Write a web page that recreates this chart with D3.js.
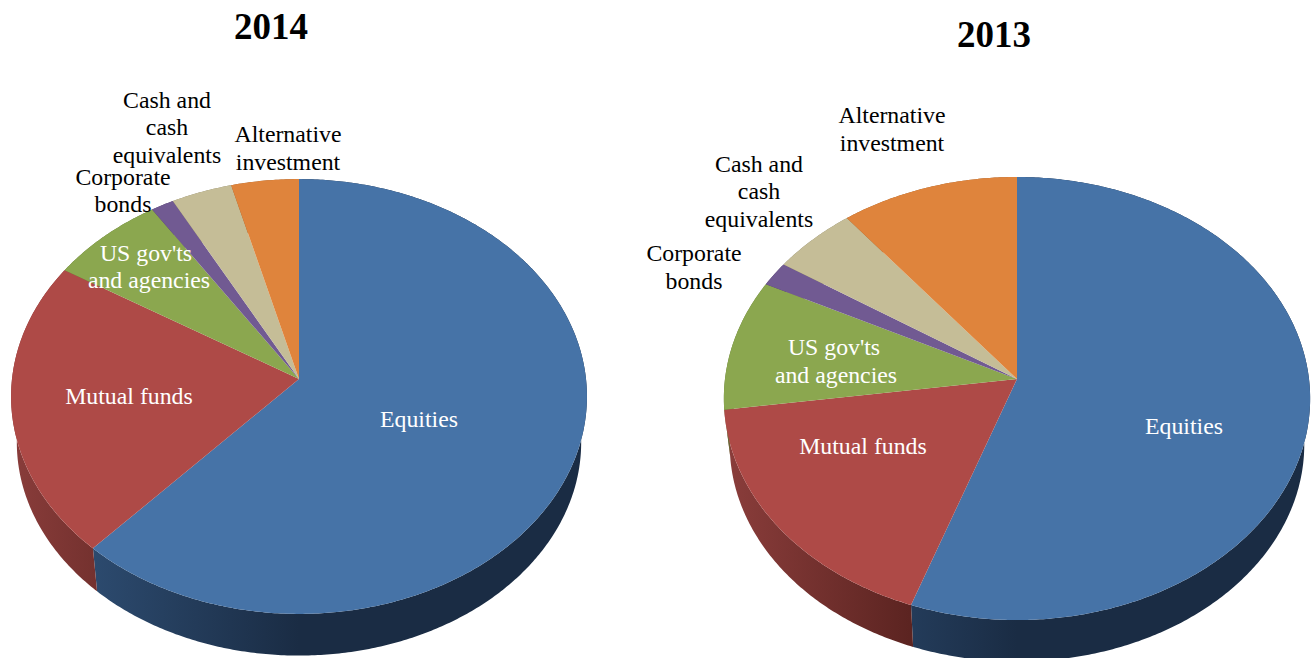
<!DOCTYPE html>
<html>
<head>
<meta charset="utf-8">
<script src="https://cdn.jsdelivr.net/npm/d3@7"></script>
<style>
  html, body { margin: 0; background: #fff; }
  svg { display: block; font-family: "Liberation Serif", serif; }
</style>
</head>
<body>
<script>
const categories = ['Equities', 'Mutual funds', "US gov'ts and agencies", 'Corporate bonds', 'Cash and cash equivalents', 'Alternative investment'];
const values2014 = [61.8, 22, 7, 1.4, 3.7, 4.1];
const values2013 = [55.4, 17.4, 9.6, 1.8, 5.1, 10.7];

const topColors = ['#4673a7', '#ae4a47', '#8ba74f', '#715a92', '#c5bd97', '#df843c'];
const wallColors = [['#2c4a6e', '#1a2c44'], ['#8a3d3b', '#5a2320'], ['#5f7335', '#5f7335'], ['#4c3c63', '#4c3c63'], ['#857f65', '#857f65'], ['#965928', '#965928']];
// gradient span of the wall, relative to the pie centre
const wallSpans = [[-205, 0], [-290, -100], [-290, 0], [-290, 0], [-290, 0], [-290, 0]];

// label lines, in the same order as the categories
const labelLines = [['Equities'], ['Mutual funds'], ["US gov'ts", 'and agencies'], ['Corporate', 'bonds'], ['Cash and', 'cash', 'equivalents'], ['Alternative', 'investment']];
const labelColors = ['#fff', '#fff', '#fff', '#000', '#000', '#000'];

const charts = [
  {
    id: 'y2014', title: '2014', titleX: 271, titleY: 39, values: values2014,
    cx: 299, cy: 379, a: 287, b: 216, g: 0.0805,
    lowScale: 0.98, lowDy: 46,
    labels: [
      [[419, 427]],
      [[129, 404]],
      [[146, 261], [149, 288]],
      [[123, 185], [123, 212]],
      [[167, 108], [167, 135], [167, 163]],
      [[288, 142], [288, 170]],
    ],
  },
  {
    id: 'y2013', title: '2013', titleX: 994, titleY: 47, values: values2013,
    cx: 1017, cy: 379, a: 292, b: 219.8, g: 0.088,
    lowScale: 0.98, lowDy: 46,
    labels: [
      [[1184, 434]],
      [[863, 454]],
      [[834, 355], [836, 383]],
      [[694, 261], [694, 289]],
      [[759, 172], [759, 199], [759, 227]],
      [[892, 123], [892, 151]],
    ],
  },
];

const width = 1316;
const height = 658;

const svg = d3.select('body')
  .append('svg')
  .attr('viewBox', [0, 0, width, height])
  .attr('width', width)
  .attr('height', height)
  .attr('text-anchor', 'middle');

const defs = svg.append('defs');
const pie = d3.pie().sort(null).value(d => d);
const line = d3.line();

charts.forEach(chart => {
  const { cx, cy, a, b, g } = chart;
  const xScale = d3.scaleLinear().domain([-1, 1]).range([cx - a, cx + a]);
  const yScale = d3.scaleLinear().domain([-1, 1]).range([cy - b, cy + b]);

  // circle seen in perspective, so the pie centre sits above the ellipse centre
  const project = angle => {
    const u = Math.sin(angle);
    const v = -Math.cos(angle);
    const w = 1 - g * v;
    return [xScale(u / w), yScale(v / w)];
  };
  const midY = project(Math.PI)[1] / 2 + project(0)[1] / 2;
  const lower = ([x, y]) => [
    cx + (x - cx) * chart.lowScale,
    midY + (y - midY) * chart.lowScale + chart.lowDy,
  ];
  const rim = d => d3.range(d.startAngle, d.endAngle, 0.01).concat(d.endAngle).map(project);

  const slices = pie(chart.values);
  const group = svg.append('g').attr('class', chart.id);

  slices.forEach((d, i) => {
    defs.append('linearGradient')
      .attr('id', `${chart.id}-wall-${i}`)
      .attr('gradientUnits', 'userSpaceOnUse')
      .attr('x1', cx + wallSpans[i][0])
      .attr('x2', cx + wallSpans[i][1])
      .attr('y1', 0)
      .attr('y2', 0)
      .selectAll('stop')
      .data(wallColors[i])
      .join('stop')
        .attr('offset', (_, j) => j)
        .attr('stop-color', c => c);
  });

  group.append('g')
    .selectAll('path')
    .data(slices)
    .join('path')
      .attr('fill', (_, i) => `url(#${chart.id}-wall-${i})`)
      .attr('d', d => {
        const points = rim(d);
        return line(points.concat(points.map(lower).reverse())) + 'Z';
      });

  group.append('g')
    .selectAll('path')
    .data(slices)
    .join('path')
      .attr('fill', (_, i) => topColors[i])
      .attr('d', d => line([[cx, cy], ...rim(d)]) + 'Z');

  group.append('text')
    .attr('x', chart.titleX)
    .attr('y', chart.titleY)
    .attr('font-size', 37)
    .attr('font-weight', 700)
    .text(chart.title);

  const label = group.append('g')
    .attr('font-size', 23.8)
    .selectAll('g')
    .data(categories)
    .join('g')
      .attr('fill', (_, i) => labelColors[i]);

  label.selectAll('text')
    .data((_, i) => labelLines[i].map((text, j) => ({ text, pos: chart.labels[i][j] })))
    .join('text')
      .attr('x', d => d.pos[0])
      .attr('y', d => d.pos[1])
      .text(d => d.text);
});
</script>
</body>
</html>
